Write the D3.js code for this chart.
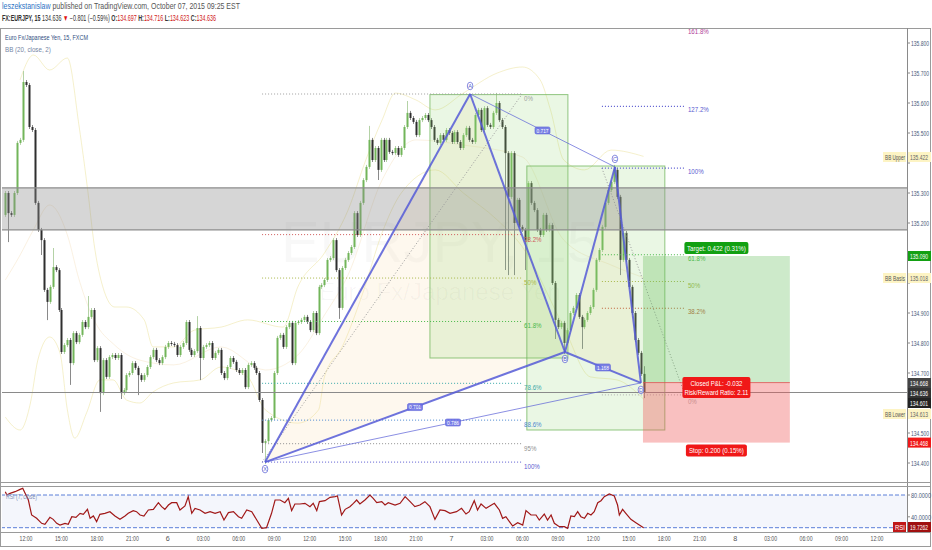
<!DOCTYPE html>
<html><head><meta charset="utf-8">
<script src="https://cdn.jsdelivr.net/npm/d3@7"></script>
<style>
body{margin:0;background:#fff;}
svg{display:block;font-family:"Liberation Sans",Arial,sans-serif;}
</style></head>
<body><svg id="c" width="932" height="550"></svg>
<script>
// ---------------- DATA ----------------
const barStart = new Date(2015, 9, 5, 10, 15); // first 15-min bar
const firstOpen = 135.227;
const closes = [
135.300,135.233,135.227,135.300,135.467,135.477,135.670,135.660,135.520,135.510,
135.267,135.177,135.143,134.977,134.937,134.987,135.053,135.043,134.910,134.770,
134.793,134.810,134.733,134.833,134.803,134.827,134.870,134.853,134.887,134.910,
134.743,134.783,134.633,134.743,134.687,134.753,134.760,134.750,134.760,134.633,
134.643,134.693,134.700,134.733,134.717,134.693,134.677,134.693,134.720,134.753,
134.777,134.743,134.733,134.753,134.787,134.800,134.797,134.793,134.760,134.787,
134.800,134.870,134.777,134.760,134.773,134.850,134.750,134.787,134.793,134.800,
134.750,134.767,134.777,134.700,134.683,134.720,134.750,134.737,134.710,134.700,
134.710,134.653,134.727,134.733,134.717,134.700,134.610,134.467,134.473,134.543,
134.550,134.700,134.817,134.827,134.787,134.853,134.867,134.733,134.867,134.870,
134.877,134.887,134.870,134.843,134.900,134.833,134.987,134.993,135.010,135.077,
135.083,135.143,135.043,134.917,135.050,135.077,135.100,135.120,135.233,135.160,
135.267,135.343,135.387,135.477,135.410,135.450,135.377,135.477,135.410,135.477,
135.437,135.433,135.450,135.427,135.450,135.520,135.567,135.550,135.537,135.493,
135.543,135.550,135.560,135.543,135.520,135.477,135.467,135.493,135.477,135.510,
135.500,135.470,135.503,135.470,135.450,135.493,135.517,135.477,135.470,135.560,
135.577,135.510,135.583,135.527,135.520,135.567,135.600,135.543,135.520,135.433,
135.287,135.433,135.200,135.277,135.187,135.177,135.143,135.333,135.267,135.243,
135.177,135.160,135.227,135.177,135.193,135.000,134.877,134.853,134.867,134.800,
134.843,134.900,134.917,134.960,134.887,134.853,134.877,134.900,134.920,134.977,
135.077,135.110,135.187,135.267,135.310,135.337,135.377,135.287,135.077,135.167,
135.077,134.987,134.900,134.810,134.767,134.697,134.636
];
const wickHi = {6:135.700,16:135.110,28:134.950,65:134.883,123:135.517,136:135.600,166:135.627,206:135.387,216:134.716};
const wickLo = {1:135.143,12:135.100,14:134.883,22:134.667,32:134.577,39:134.620,45:134.633,66:134.683,87:134.440,88:134.403,
  113:134.887,126:135.350,169:135.050,170:135.033,172:135.033,176:135.050,186:134.820,189:134.770,195:134.787,208:135.033,216:134.623};

// Bollinger bands (20, close, 2): [bar, price]
const bbUpper = [[5,135.677],[9.5,135.760],[15,135.710],[21,135.750],[25,135.520],[28,135.300],[30,135.133],[33,134.987],[37,134.920],[41,134.920],[47,134.877],[50,134.787],[57,134.787],[64,134.843],[73,134.853],[82,134.877],[94,134.853],[99,134.987],[108,135.100],[116,135.243],[122,135.410],[127.5,135.543],[132,135.633],[139,135.610],[145.5,135.577],[155,135.633],[166.5,135.700],[175,135.720],[181,135.677],[184.5,135.577],[189,135.410],[196,135.377],[205,135.443],[216,135.422]];
const bbLower = [[0,134.553],[5,134.510],[8.5,134.600],[11,134.743],[15,134.820],[18.5,134.767],[21,134.577],[23.5,134.483],[27.5,134.567],[32,134.677],[36.5,134.677],[41,134.610],[45.5,134.600],[50,134.637],[57,134.667],[66,134.677],[73,134.720],[82,134.687],[88,134.577],[99,134.533],[106,134.577],[108,134.687],[114,134.787],[121,134.967],[127.5,135.167],[134,135.300],[145.5,135.377],[155,135.300],[166.5,135.210],[175,135.120],[189,134.853],[198,134.687],[207,134.677],[216,134.613]];
const bbBasis = [[0,135.010],[5,135.093],[9.5,135.177],[15,135.260],[21,135.160],[25,135.010],[30,134.877],[37,134.793],[45.5,134.743],[57,134.727],[73,134.787],[88,134.710],[99,134.760],[108,134.893],[116,135.027],[127.5,135.343],[139,135.477],[155,135.460],[175,135.420],[189,135.143],[205,135.060],[216,135.018]];

// RSI (7, close): bar positions and values
const rsiBar = [0,0.5,1.6,3.3,5,5.9,6.7,7.8,8.9,10.6,12.3,13.4,15.1,16.2,17.4,18.5,20.2,21.3,22.5,23.9,25.3,26.4,27.8,28.7,29.8,30.9,32,33.7,35.4,37.1,38.8,40.5,41.6,43.3,44.4,45.6,46.9,48.4,50.1,51.8,52.9,54,55.2,56.3,58,59.1,60.8,61.9,63.1,64.2,65.9,67.6,69.3,71,72.7,74,75.5,77.2,78.9,80,81.7,83.4,85.1,86.8,88.4,90.1,91.3,93,94.6,95.8,96.9,98,99.7,101.4,103.1,104.2,105.4,106.3,108.2,109.9,111.6,112.4,113.8,115,116.6,117.8,118.9,120,121.7,123.4,124.5,125.7,127.4,128.5,129.6,131.9,133.6,135.3,137,138.6,140.3,142,143.7,145.4,147.1,148.8,150.5,152.7,154.4,155.9,157,158.7,159.8,161,162.7,165.5,167.2,168.3,169.4,170.6,171.7,173.4,175.1,176.2,177.9,179.6,180.7,182.4,183.5,184.7,185.8,187.5,189.2,190.3,191.4,192.6,193.7,194.8,196,197.1,198.2,199.3,200.5,201.6,202.7,204.4,206.1,207.2,207.8,208.9,210,211.7,213.4,216];
const rsiVal = [86.1,80,83.1,86.1,90.4,92.2,83.1,70.8,43.3,37.2,28,26.2,39,35.3,28,24.9,28,26.2,40.2,39,46.4,44.5,53.7,37.2,41.5,31.1,44.5,46.4,49.4,41.5,35.3,41.5,46.4,51.3,49.4,43.3,41.5,52.5,53.7,65.9,58.6,53.7,61.6,65.9,65.9,52.5,59.8,76.9,46.4,55.5,52.5,46.4,49.4,46.4,49.4,34.1,47.6,49.4,40.2,37.2,52.5,49.4,34.1,18.8,20,46.4,70.8,70.8,65.9,73.9,51.3,63.5,63.5,64.7,58.6,64.7,51.3,67.8,69.6,75.7,76.9,78.2,43.3,53.7,58.6,64.7,70.8,63.5,70.8,80,73.9,65.9,67.8,61.6,65.9,61.6,64.7,76.9,67.8,58.6,61.6,67.8,58.6,35.3,52.5,51.3,46.4,49.4,55.5,45.1,49.4,69.6,52.5,63.5,55.5,64.7,52.5,37.2,40.2,31.1,23.1,29.2,24.9,51.3,43.3,43.3,34.1,45.1,34.1,43.3,28,21.9,21.9,18.8,41.5,40.2,49.4,40.2,37.2,46.4,43.3,49.4,65.9,69.6,76.9,81.8,78.2,61.6,43.3,53.7,46.4,35.3,29.2,19.7262];

// Drawings (bar index, price)
const zone = [135.177, 135.317];
const lastPrice = 134.636;
const patternNames = ["X","A","B","C","D"];
const patternBars = [87.9,157.3,189.4,206.3,215.1];
const patternPrices = [134.403,135.630,134.770,135.387,134.667];
const ratioLabels = [["X","B","0.701"],["A","C","0.717"],["B","D","1.168"],["X","D","0.786"]];
const fib1Levels = [0,0.382,0.5,0.618,0.786,0.886,0.95,1];
const fib1Labels = ["0%","38.2%","50%","61.8%","78.6%","88.6%","95%","100%"];
const fib1Colors = ["#a0a0a0","#d05a5a","#a8b84a","#48b848","#3aa8a8","#4a88d0","#909090","#5a5ad0"];
const fib1Range = {b0:86.9,b1:174.9,p0:135.630,p1:134.403};
const fib2Levels = [0,0.382,0.5,0.618,1,1.272,1.618];
const fib2Labels = ["0%","38.2%","50%","61.8%","100%","127.2%","161.8%"];
const fib2Colors = ["#b0b0b0","#c0603a","#a8b84a","#48b848","#5a5ad0","#5a5ad0","#b0409a"];
const fib2Range = {b0:201.9,b1:230.0,p0:134.627,p1:135.383};
const boxes = [{b0:143.7,b1:190.4,top:135.628,bot:134.750},{b0:176.5,b1:223.2,top:135.390,bot:134.510}];
const position = {b0:215.8,b1:265.5,entry:134.668,target:135.090,stop:134.468};
const priceTicks = [134.4,134.5,134.6,134.7,134.8,134.9,135.0,135.1,135.2,135.3,135.4,135.5,135.6,135.7,135.8];
const rsiTicks = [80,40];
// right-axis markers: [price, value text, kind]
const axisMarkers = [
  [135.422,'135.422','bbU'],[135.090,'135.090','target'],[135.018,'135.018','bbB'],
  [134.668,'134.668','entry'],[134.636,'134.636','last'],[134.601,'134.601','mark'],
  [134.613,'134.613','bbL'],[134.468,'134.468','stop']
];

// ---------------- SCALES ----------------
const svg = d3.select('#c');
const PL = 1, PR = 907, MT = 28, MB = 482, RT = 486, RB = 532;
const x = d3.scaleTime().domain([new Date(2015,9,5,12), new Date(2015,9,8,12)]).range([26,877]);
const y = d3.scaleLinear().domain([134.4,135.8]).range([463,43]);
const yR = d3.scaleLinear().domain([20,80]).range([527.7,495]);
const tBar = i => new Date(barStart.getTime() + i*15*60000);
const xb = i => x(tBar(i));

// condensed text: build text at origin, then scale horizontally to target width
function ctext(parent, px, py, size, fill, anchor, target, build){
  const g = parent.append('g');
  const t = g.append('text').attr('x',0).attr('y',0).attr('font-size',size).attr('fill',fill).attr('text-anchor',anchor||'start');
  if (typeof build === 'string') t.text(build); else build(t);
  const L = t.node().getComputedTextLength() || 1;
  const sx = target < 3 ? target : target / L;
  g.attr('transform', `translate(${px},${py}) scale(${sx},1)`);
  return t;
}

const defs = svg.append('defs');
defs.append('clipPath').attr('id','mainClip').append('rect').attr('x',PL+1).attr('y',MT+1).attr('width',PR-PL-1).attr('height',MB-MT-1);
defs.append('clipPath').attr('id','rsiClip').append('rect').attr('x',PL+1).attr('y',RT+1).attr('width',PR-PL-1).attr('height',RB-RT-1);

// header
ctext(svg, 2, 9, 8.2, '#555', 'start', 238, t=>{
  t.append('tspan').attr('fill','#2d72c4').text('leszekstanislaw');
  t.append('tspan').text(' published on TradingView.com, October 07, 2015 09:25 EST');
});
ctext(svg, 2, 21, 8.2, '#333', 'start', 214, t=>{
  t.append('tspan').attr('font-weight','bold').text('FX:EURJPY, 15 ');
  t.append('tspan').text('134.636 ');
  t.append('tspan').attr('fill','#e01010').text('▼');
  t.append('tspan').text(' −0.801 (−0.59%) ');
  [['O:','134.697'],['H:','134.716'],['L:','134.623'],['C:','134.636']].forEach(([k,v],j)=>{
    t.append('tspan').attr('font-weight','bold').text(k);
    t.append('tspan').attr('fill','#d02020').text(v+(j<3?' ':''));
  });
});

// frames
svg.append('rect').attr('x',0.5).attr('y',MT+0.5).attr('width',930).attr('height',518).attr('fill','none').attr('stroke','#9a9a9a');
svg.append('line').attr('x1',PR+0.5).attr('x2',PR+0.5).attr('y1',MT).attr('y2',RB).attr('stroke','#8a8a8a');
svg.append('line').attr('x1',0).attr('x2',931).attr('y1',MB+0.5).attr('y2',MB+0.5).attr('stroke','#9a9a9a');
svg.append('line').attr('x1',0).attr('x2',931).attr('y1',RT+0.5).attr('y2',RT+0.5).attr('stroke','#9a9a9a');
svg.append('line').attr('x1',0).attr('x2',931).attr('y1',RB+0.5).attr('y2',RB+0.5).attr('stroke','#9a9a9a');

// ---------------- MAIN PANE ----------------
const main = svg.append('g').attr('clip-path','url(#mainClip)');
// watermark (very faint, behind everything)
main.append('text').attr('x',440).attr('y',262).attr('text-anchor','middle').attr('font-size',58).attr('fill','rgba(0,0,0,0.028)').text('EURJPY, 15');
main.append('text').attr('x',440).attr('y',300).attr('text-anchor','middle').attr('font-size',24).attr('fill','rgba(0,0,0,0.035)').text('Euro Fx/Japanese Yen');

// BB
const bbLine = d3.line().x(d=>xb(d[0])).y(d=>y(d[1])).curve(d3.curveMonotoneX);
[[bbUpper,'rgba(230,215,120,0.38)'],[bbLower,'rgba(230,215,120,0.38)'],[bbBasis,'rgba(235,200,140,0.25)']].forEach(([d,c])=>{
  main.append('path').attr('d',bbLine(d)).attr('fill','none').attr('stroke',c).attr('stroke-width',1);
});

// pattern points
const P = {}; patternNames.forEach((n,i)=>P[n]=[xb(patternBars[i]),y(patternPrices[i])]);
main.append('path').attr('d',`M${P.X}L${P.A}L${P.B}Z`).attr('fill','rgba(250,215,160,0.18)');
main.append('path').attr('d',`M${P.B}L${P.C}L${P.D}Z`).attr('fill','rgba(250,215,160,0.18)');

// candles
const bars = closes.map((c,i)=>{const o=i?closes[i-1]:firstOpen; const up=c>=o;
  return {i,o,c,up,h:wickHi[i]!==undefined?wickHi[i]:Math.max(o,c),l:wickLo[i]!==undefined?wickLo[i]:Math.min(o,c)};});
const cg = main.append('g');
cg.selectAll('line').data(bars).join('line')
  .attr('x1',d=>Math.round(xb(d.i))+0.5).attr('x2',d=>Math.round(xb(d.i))+0.5)
  .attr('y1',d=>y(d.h)-2).attr('y2',d=>y(d.l)+2)
  .attr('stroke',d=>d.up?'#b4d2a6':'#8a8a8a').attr('stroke-width',1);
cg.selectAll('rect').data(bars).join('rect')
  .attr('x',d=>Math.round(xb(d.i))-0.5).attr('width',2)
  .attr('y',d=>y(Math.max(d.o,d.c))).attr('height',d=>Math.max(1,Math.abs(y(d.o)-y(d.c))))
  .attr('fill',d=>d.up?'#72b55a':'#2f2f2f');

// green boxes
boxes.forEach(b=>{
  main.append('rect').attr('x',xb(b.b0)).attr('y',y(b.top)).attr('width',xb(b.b1)-xb(b.b0)).attr('height',y(b.bot)-y(b.top))
    .attr('fill','rgba(150,215,120,0.2)').attr('stroke','rgba(110,180,90,0.75)').attr('stroke-width',1);
});

// support/resistance zone
main.append('rect').attr('x',PL).attr('width',PR-PL).attr('y',y(zone[1])).attr('height',y(zone[0])-y(zone[1]))
  .attr('fill','rgba(140,140,140,0.36)');
[zone[0],zone[1]].forEach(p=>main.append('line').attr('x1',PL).attr('x2',PR).attr('y1',y(p)).attr('y2',y(p)).attr('stroke','#8c8c8c').attr('stroke-width',1.3));

// last price line
main.append('line').attr('x1',PL).attr('x2',PR).attr('y1',Math.round(y(lastPrice))+0.5).attr('y2',Math.round(y(lastPrice))+0.5).attr('stroke','#8a8a8a').attr('stroke-width',1);

// fib 1 (XA retracement)
main.append('line').attr('x1',xb(fib1Range.b0)).attr('y1',y(fib1Range.p1)).attr('x2',xb(fib1Range.b1)).attr('y2',y(fib1Range.p0))
  .attr('stroke','#9a9a9a').attr('stroke-dasharray','1,2');
fib1Levels.forEach((r,k)=>{
  const p = fib1Range.p0 + r*(fib1Range.p1-fib1Range.p0);
  main.append('line').attr('x1',xb(fib1Range.b0)).attr('x2',xb(fib1Range.b1)).attr('y1',y(p)).attr('y2',y(p))
    .attr('stroke',fib1Colors[k]).attr('stroke-dasharray','1,2').attr('stroke-width',1);
  ctext(main, xb(fib1Range.b1)+2, y(p)+7, 7.5, fib1Colors[k], 'start', 0.82, fib1Labels[k]);
});
// fib 2
main.append('line').attr('x1',xb(fib2Range.b0)).attr('y1',y(fib2Range.p1)).attr('x2',xb(fib2Range.b1)).attr('y2',y(fib2Range.p0))
  .attr('stroke','#9a9a9a').attr('stroke-dasharray','1,2');
fib2Levels.forEach((r,k)=>{
  const p = fib2Range.p0 + r*(fib2Range.p1-fib2Range.p0);
  if (r < 1.5) main.append('line').attr('x1',xb(fib2Range.b0)).attr('x2',xb(fib2Range.b1)).attr('y1',y(p)).attr('y2',y(p))
    .attr('stroke',fib2Colors[k]).attr('stroke-dasharray','1,2').attr('stroke-width',r>=1?1.3:1);
  ctext(main, xb(fib2Range.b1)+3, y(p)+(r===0?9:6), 7.5, fib2Colors[k], 'start', 0.82, fib2Labels[k]);
});

// position tool
const px0 = xb(position.b0), px1 = xb(position.b1);
main.append('rect').attr('x',px0).attr('width',px1-px0).attr('y',y(position.target)).attr('height',y(position.entry)-y(position.target)).attr('fill','rgba(100,190,90,0.32)');
main.append('rect').attr('x',px0).attr('width',px1-px0).attr('y',y(position.entry)).attr('height',y(position.stop)-y(position.entry)).attr('fill','rgba(240,90,90,0.38)');
main.append('line').attr('x1',px0).attr('x2',px1).attr('y1',y(position.entry)).attr('y2',y(position.entry)).attr('stroke','rgba(220,80,80,0.8)');

// pattern lines
const thin = [['A','C'],['X','D']];
const thick = [['X','A'],['A','B'],['B','C'],['C','D'],['X','B'],['B','D']];
thin.forEach(([a,b])=>main.append('line').attr('x1',P[a][0]).attr('y1',P[a][1]).attr('x2',P[b][0]).attr('y2',P[b][1]).attr('stroke','rgba(90,95,215,0.7)').attr('stroke-width',1));
thick.forEach(([a,b])=>main.append('line').attr('x1',P[a][0]).attr('y1',P[a][1]).attr('x2',P[b][0]).attr('y2',P[b][1]).attr('stroke','rgba(85,90,215,0.85)').attr('stroke-width',2));
ratioLabels.forEach(([a,b,t])=>{
  const mx=(P[a][0]+P[b][0])/2, my=(P[a][1]+P[b][1])/2;
  main.append('rect').attr('x',mx-7.5).attr('y',my-3.5).attr('width',15).attr('height',7).attr('rx',1.5).attr('fill','rgba(105,110,228,0.85)').attr('stroke','#5a5fd8').attr('stroke-width',0.6);
  ctext(main, mx, my+2.2, 6, '#fff', 'middle', 12, t);
});
patternNames.forEach((n,i)=>{
  const [px,py]=P[n]; const below = (n==='X'||n==='B'||n==='D');
  const ly = below? py+7 : py-8;
  main.append('ellipse').attr('cx',px).attr('cy',ly).attr('rx',2.8).attr('ry',3.8).attr('fill','rgba(255,255,255,0.6)').attr('stroke','#6a6ed8').attr('stroke-width',0.8);
  main.append('text').attr('x',px).attr('y',ly+2.2).attr('text-anchor','middle').attr('font-size',5.5).attr('fill','#5a5fd0').text(n);
});

// position labels
function tag(cx, cy, lines, fill, w, tw){
  const hgt = lines.length*9+3;
  main.append('rect').attr('x',cx-w/2).attr('y',cy-hgt/2).attr('width',w).attr('height',hgt).attr('rx',2).attr('fill',fill);
  lines.forEach((t,k)=>ctext(main, cx, cy-hgt/2+8.5+k*9, 7.6, '#fff', 'middle', tw[k], t));
}
const pcx = (px0+px1)/2;
tag(pcx, y(position.target)-8, ['Target: 0.422 (0.31%)'], '#12a012', 64, [59]);
tag(pcx, y(position.entry)+5, ['Closed P&L: -0.032','Risk/Reward Ratio: 2.11'], '#f01818', 68, [52,64]);
tag(pcx, y(position.stop)+8, ['Stop: 0.200 (0.15%)'], '#f01818', 61, [55]);

// titles
ctext(svg, 5, 40, 8, '#2f4d80', 'start', 83, 'Euro Fx/Japanese Yen, 15, FXCM');
ctext(svg, 5, 52, 7.5, '#7484a4', 'start', 46, 'BB (20, close, 2)');

// ---------------- RSI PANE ----------------
const rsi = svg.append('g').attr('clip-path','url(#rsiClip)');
rsi.append('rect').attr('x',PL).attr('width',PR-PL).attr('y',yR(80)).attr('height',yR(20)-yR(80)).attr('fill','#f4f6fc');
[80,20].forEach(v=>rsi.append('line').attr('x1',PL).attr('x2',PR).attr('y1',yR(v)).attr('y2',yR(v)).attr('stroke','#5b7ed8').attr('stroke-dasharray','4,2').attr('stroke-width',1));
rsi.append('path').attr('d',d3.line().x((d,i)=>xb(rsiBar[i])).y(d=>yR(d))(rsiVal)).attr('fill','none').attr('stroke','#a01818').attr('stroke-width',1.2);
ctext(svg, 6, 499, 7, '#8090b8', 'start', 31, 'RSI (7, close)');

// ---------------- AXES ----------------
const ax = svg.append('g');
const markerY = {bbU:157, target:y(135.090), bbB:278, entry:383, last:393, mark:403, bbL:414, stop:y(134.468)};
const occupied = Object.values(markerY);
priceTicks.forEach(p=>{
  ax.append('line').attr('x1',PR).attr('x2',PR+3).attr('y1',y(p)).attr('y2',y(p)).attr('stroke','#8a8a8a');
  if (occupied.some(v=>Math.abs(v-y(p))<9)) return; // hidden under a coloured marker
  ctext(ax, PR+4, y(p)+3, 7.5, '#4a5a7a', 'start', 18, p.toFixed(3));
});
rsiTicks.forEach(v=>{
  ax.append('line').attr('x1',PR).attr('x2',PR+3).attr('y1',yR(v)).attr('y2',yR(v)).attr('stroke','#8a8a8a');
  ctext(ax, PR+4, yR(v)+3, 7.5, '#4a5a7a', 'start', 20, v.toFixed(4));
});
function axLabel(yy, text, bg, fg, side){
  ax.append('rect').attr('x',PR+1).attr('y',yy-5).attr('width',23).attr('height',10).attr('fill',bg);
  ctext(ax, PR+3, yy+3, 7.5, fg, 'start', text.length>7?20:18, text);
  if(side){ const wide = side[0].length>3;
    ax.append('rect').attr('x',PR-(wide?24:14)).attr('y',yy-5).attr('width',wide?23:13).attr('height',10).attr('fill',side[1]);
    ctext(ax, PR-2, yy+3, 7, side[2]||'#555', 'end', wide?20:10, side[0]); }
}
const styles = {
  bbU:['#fdf4c4','#666',['BB Upper','#fdf4c4']], target:['#13a013','#fff'], bbB:['#fdf4c4','#666',['BB Basis','#fdf4c4']],
  entry:['#444','#fff'], last:['#333','#fff'], mark:['#222','#fff'], bbL:['#fdf4c4','#666',['BB Lower','#fdf4c4']], stop:['#f01818','#fff']
};
axisMarkers.forEach(([p,t,k])=>{ const s=styles[k]; axLabel(markerY[k], t, s[0], s[1], s[2]); });
axLabel(527,'19.7262','#a01010','#fff',['RSI','#c01818','#fff']);

// time axis
const tTicks = d3.timeHour.every(3).range(new Date(2015,9,5,12), new Date(2015,9,8,13));
tTicks.forEach(t=>{
  const day = t.getHours()===0;
  const lab = day ? String(t.getDate()) : d3.timeFormat('%H:%M')(t);
  ctext(svg, x(t), 541, 7.5, '#555', 'middle', day?4:13, lab);
});
</script></body></html>
